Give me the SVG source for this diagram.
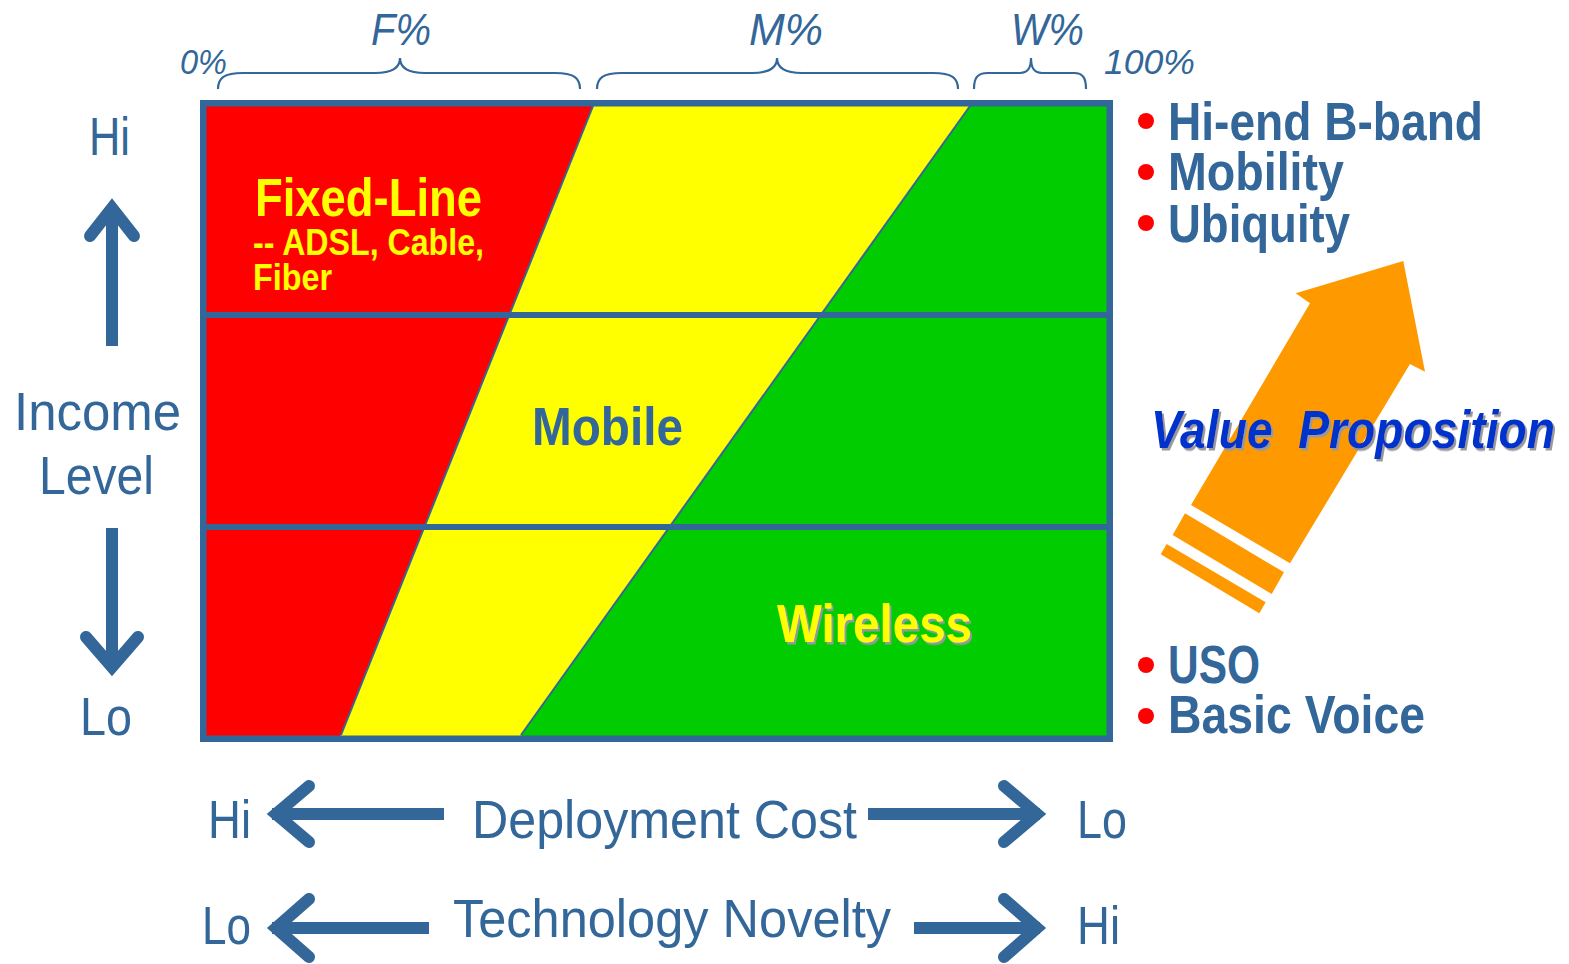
<svg xmlns="http://www.w3.org/2000/svg" width="1569" height="964" viewBox="0 0 1569 964">
<defs>
<style>
text{font-family:"Liberation Sans Narrow","Arial Narrow","Liberation Sans",Arial,sans-serif;}
.lbl{fill:#336699;font-size:53px;}
.b{font-weight:bold;}
.pct{fill:#336699;font-style:italic;}
.ar{stroke:#336699;fill:none;stroke-width:12;}
.head{stroke:#336699;fill:none;stroke-width:12;stroke-linecap:round;stroke-linejoin:miter;stroke-miterlimit:6;}
.brace{stroke:#336699;fill:none;stroke-width:2.2;}
.edge{stroke:#336699;stroke-width:2;fill:none;}
.bul{fill:#FF0000;}
</style>
<filter id="sh" x="-5%" y="-20%" width="115%" height="150%">
<feDropShadow dx="2" dy="2.5" stdDeviation="0.4" flood-color="#999999" flood-opacity="1"/>
</filter>
</defs>
<rect width="1569" height="964" fill="#FFFFFF"/>

<g id="chart">
<polygon points="200,100 595.4,100 338.2,742 200,742" fill="#FF0000"/>
<polygon points="595.4,100 974.3,100 516,742 338.2,742" fill="#FFFF00"/>
<polygon points="974.3,100 1113,100 1113,742 516,742" fill="#00CC00"/>
<line class="edge" x1="593" y1="106" x2="341" y2="735"/>
<line class="edge" x1="970" y1="106" x2="521" y2="735"/>
<line x1="203" y1="315" x2="1110" y2="315" stroke="#336699" stroke-width="6"/>
<line x1="203" y1="527" x2="1110" y2="527" stroke="#336699" stroke-width="6"/>
<rect x="203.25" y="103.25" width="906.5" height="635.5" fill="none" stroke="#336699" stroke-width="6.5"/>
</g>

<g id="fixed-line">
<text class="b" x="255" y="216" font-size="54" fill="#FFFF00" textLength="227" lengthAdjust="spacingAndGlyphs">Fixed-Line</text>
<text class="b" x="253" y="255" font-size="37" fill="#FFFF00" textLength="231" lengthAdjust="spacingAndGlyphs">-- ADSL, Cable,</text>
<text class="b" x="253" y="290" font-size="37" fill="#FFFF00" textLength="79" lengthAdjust="spacingAndGlyphs">Fiber</text>
</g>
<g id="mobile">
<text class="b" x="532" y="445" font-size="54" fill="#336699" textLength="151" lengthAdjust="spacingAndGlyphs">Mobile</text>
</g>
<g id="wireless">
<text class="b" x="777" y="642" font-size="54" fill="#FFFF00" filter="url(#sh)" textLength="195" lengthAdjust="spacingAndGlyphs">Wireless</text>
</g>

<g id="top-scale">
<path class="brace" d="M218,89 C218,78 224,73 243,73 L375,73 C392,73 400,68 400,58 C400,68 408,73 425,73 L555,73 C574,73 580,78 580,89"/>
<path class="brace" d="M597,89 C597,78 603,73 622,73 L752,73 C769,73 777,68 777,58 C777,68 785,73 802,73 L933,73 C952,73 958,78 958,89"/>
<path class="brace" d="M974,89 C974,78 977,73 988,73 L1020,73 C1028,73 1031,68 1031,58 C1031,68 1034,73 1042,73 L1074,73 C1083,73 1086,78 1086,89"/>
<text class="pct" x="180" y="74" font-size="35" textLength="47" lengthAdjust="spacingAndGlyphs">0%</text>
<text class="pct" x="371" y="45" font-size="44" textLength="60" lengthAdjust="spacingAndGlyphs">F%</text>
<text class="pct" x="749" y="45" font-size="44" textLength="74" lengthAdjust="spacingAndGlyphs">M%</text>
<text class="pct" x="1011" y="45" font-size="44" textLength="73" lengthAdjust="spacingAndGlyphs">W%</text>
<text class="pct" x="1104" y="74" font-size="35" textLength="91" lengthAdjust="spacingAndGlyphs">100%</text>
</g>

<g id="income-axis">
<text class="lbl" x="89" y="155" textLength="41" lengthAdjust="spacingAndGlyphs">Hi</text>
<text class="lbl" x="14" y="430" textLength="167" lengthAdjust="spacingAndGlyphs">Income</text>
<text class="lbl" x="39" y="494" textLength="115" lengthAdjust="spacingAndGlyphs">Level</text>
<text class="lbl" x="80" y="735" textLength="52" lengthAdjust="spacingAndGlyphs">Lo</text>
</g>

<g id="connectors">
<line class="ar" x1="112" y1="206" x2="112" y2="346"/>
<polyline class="head" points="90,236 112,208 134,236"/>
<line class="ar" x1="112" y1="528" x2="112" y2="660"/>
<polyline class="head" points="86,637 112,667 138,637"/>
<line class="ar" stroke-width="11" x1="272" y1="814" x2="444" y2="814"/>
<polyline class="head" points="309,786 276,814 309,842"/>
<line class="ar" stroke-width="11" x1="868" y1="814" x2="1040" y2="814"/>
<polyline class="head" points="1004,786 1037,814 1004,842"/>
<line class="ar" stroke-width="11" x1="272" y1="928" x2="429" y2="928"/>
<polyline class="head" points="309,899 276,928 309,957"/>
<line class="ar" stroke-width="11" x1="914" y1="928" x2="1040" y2="928"/>
<polyline class="head" points="1004,899 1037,928 1004,957"/>
</g>

<g id="cost-axis">
<text class="lbl" x="208" y="838" textLength="43" lengthAdjust="spacingAndGlyphs">Hi</text>
<text class="lbl" x="472" y="838" textLength="385" lengthAdjust="spacingAndGlyphs">Deployment Cost</text>
<text class="lbl" x="1077" y="838" textLength="50" lengthAdjust="spacingAndGlyphs">Lo</text>
</g>
<g id="novelty-axis">
<text class="lbl" x="202" y="944" textLength="49" lengthAdjust="spacingAndGlyphs">Lo</text>
<text class="lbl" x="453" y="937" textLength="438" lengthAdjust="spacingAndGlyphs">Technology Novelty</text>
<text class="lbl" x="1077" y="944" textLength="43" lengthAdjust="spacingAndGlyphs">Hi</text>
</g>

<g id="high-value">
<circle class="bul" cx="1146" cy="121" r="8"/>
<circle class="bul" cx="1146" cy="172" r="8"/>
<circle class="bul" cx="1146" cy="223" r="8"/>
<text class="lbl b" x="1168" y="140" textLength="315" lengthAdjust="spacingAndGlyphs">Hi-end B-band</text>
<text class="lbl b" x="1168" y="190" textLength="176" lengthAdjust="spacingAndGlyphs">Mobility</text>
<text class="lbl b" x="1168" y="242" textLength="182" lengthAdjust="spacingAndGlyphs">Ubiquity</text>
</g>
<g id="low-value">
<circle class="bul" cx="1146" cy="665" r="8"/>
<circle class="bul" cx="1146" cy="716" r="8"/>
<text class="lbl b" x="1168" y="683" textLength="92" lengthAdjust="spacingAndGlyphs">USO</text>
<text class="lbl b" x="1168" y="733" textLength="257" lengthAdjust="spacingAndGlyphs">Basic Voice</text>
</g>

<g id="value-arrow">
<polygon points="1403.3,261 1425,371.7 1410,364 1290,563.3 1191,505 1310,303.3 1295.7,293.3" fill="#FF9900"/>
<polygon points="1185,513.3 1284,572.3 1271.7,594 1172.7,535" fill="#FF9900"/>
<polygon points="1166.7,544 1265.7,602.3 1259.3,613.3 1160.7,554.3" fill="#FF9900"/>
<text x="1151" y="448" xml:space="preserve" font-size="53" font-weight="bold" font-style="italic" fill="#0033CC" filter="url(#sh)" textLength="404" lengthAdjust="spacingAndGlyphs">Value  Proposition</text>
</g>
</svg>
